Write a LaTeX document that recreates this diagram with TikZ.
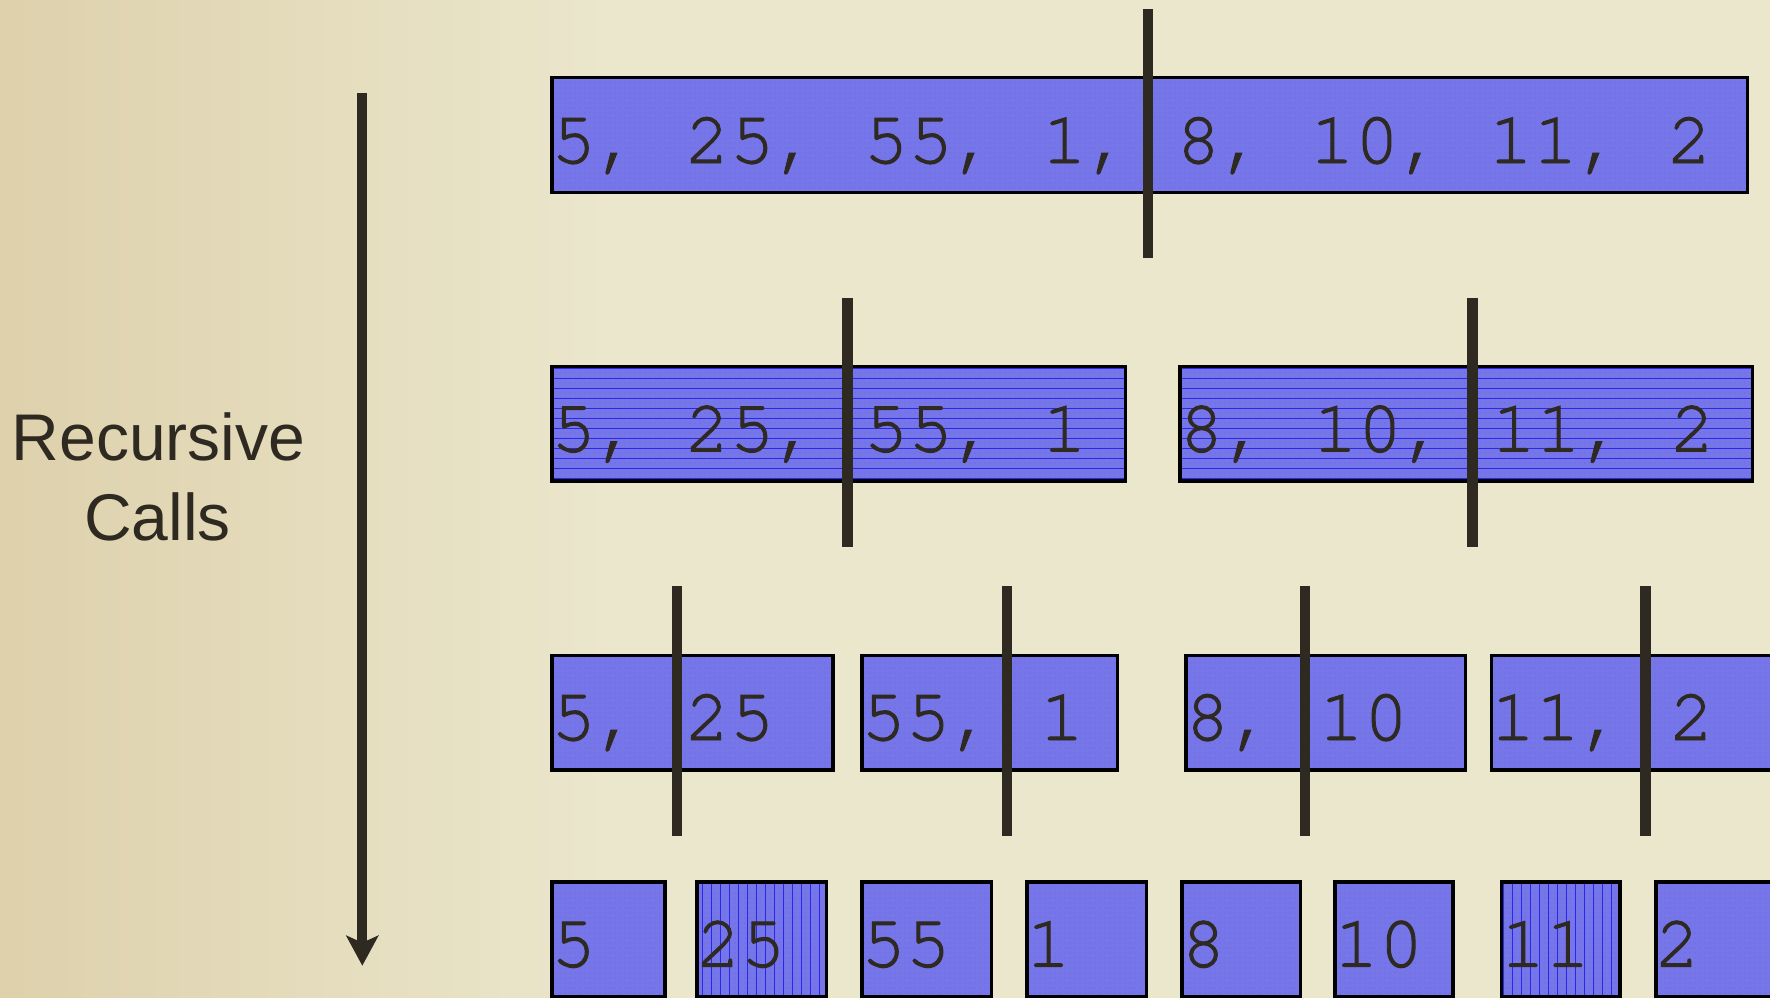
\documentclass[tikz,border=0pt]{standalone}
\usepackage{fontspec}
\setmainfont{Liberation Serif}
\setsansfont{Liberation Sans}
\setmonofont[FakeBold=1.3]{texgyrecursor-regular.otf}
\usetikzlibrary{arrows.meta,patterns.meta}
\definecolor{bgbase}{RGB}{235,231,205}
\definecolor{bgtan}{RGB}{222,209,172}
\definecolor{ink}{RGB}{46,42,34}
\definecolor{cellblue}{RGB}{118,118,232}
\definecolor{dotblue}{RGB}{60,60,245}
\definecolor{lineblue}{RGB}{40,40,235}
\tikzset{
  cell/.style={draw=black, line width=3.5pt, inner sep=0pt, anchor=north west,
    minimum height=114.5pt,
    preaction={fill=cellblue},
    pattern={Dots[distance=5pt, radius=0.4pt]}, pattern color=dotblue},
  hlines/.style={preaction={pattern={Lines[distance=10pt, angle=0, line width=0.8pt]}, pattern color=lineblue}},
  vlines/.style={preaction={pattern={Lines[distance=9pt, angle=90, line width=0.8pt]}, pattern color=lineblue}},
  num/.style={anchor=base west, inner sep=0pt, text=ink, xshift=1pt,
    font=\ttfamily\fontsize{74.4}{80}\selectfont},
  divider/.style={draw=ink, line width=10.7pt},
  lbl/.style={anchor=base, inner sep=0pt, text=ink,
    font=\sffamily\fontsize{66}{79}\selectfont}
}
\begin{document}
\begin{tikzpicture}[x=1pt,y=-1pt]
\useasboundingbox (0,0) rectangle (1770,998);
\clip (0,0) rectangle (1770,998);
% background
\fill[bgbase] (0,0) rectangle (1770,998);
\shade[left color=bgtan, right color=bgbase] (0,0) rectangle (620,998);

% level 1
\node[cell, minimum width=1195.5pt] (r1) at (550,76) {};
\node[num] (t1) at (550,163) {5, 25, 55, 1, 8, 10, 11, 2};
\draw[divider] (1148,9) -- (1148,258);

% level 2
\node[cell, hlines, minimum width=573.5pt] (r2a) at (550,364.5) {};
\node[num] (t2a) at (550,451.5) {5, 25, 55, 1};
\node[cell, hlines, minimum width=572.5pt] (r2b) at (1178,364.5) {};
\node[num] (t2b) at (1178,451.5) {8, 10, 11, 2};
\draw[divider] (847.6,298) -- (847.6,547);
\draw[divider] (1472.5,298) -- (1472.5,547);

% level 3
\node[cell, minimum width=281pt] (r3a) at (550,653.5) {};
\node[num] (t3a) at (550,740) {5, 25};
\node[cell, minimum width=255.5pt] (r3b) at (860,653.5) {};
\node[num] (t3b) at (860,740) {55, 1};
\node[cell, minimum width=279.5pt] (r3c) at (1184,653.5) {};
\node[num] (t3c) at (1184,740) {8, 10};
\node[cell, minimum width=283pt] (r3d) at (1489.6,653.5) {};
\node[num] (t3d) at (1489.6,740) {11, 2};
\draw[divider] (677,586) -- (677,836);
\draw[divider] (1007,586) -- (1007,836);
\draw[divider] (1305,586) -- (1305,836);
\draw[divider] (1645.6,586) -- (1645.6,836);

% level 4
\node[cell, minimum width=113pt] (r4a) at (550,880) {};
\node[num] (t4a) at (550,966.7) {5};
\node[cell, vlines, minimum width=129.5pt] (r4b) at (695,880) {};
\node[num] (t4b) at (695,966.7) {25};
\node[cell, minimum width=129.5pt] (r4c) at (860,880) {};
\node[num] (t4c) at (860,966.7) {55};
\node[cell, minimum width=119.5pt] (r4d) at (1025,880) {};
\node[num] (t4d) at (1025,966.7) {1};
\node[cell, minimum width=118.5pt] (r4e) at (1180,880) {};
\node[num] (t4e) at (1180,966.7) {8};
\node[cell, minimum width=118pt] (r4f) at (1333,880) {};
\node[num] (t4f) at (1333,966.7) {10};
\node[cell, vlines, minimum width=118.5pt] (r4g) at (1499.7,880) {};
\node[num] (t4g) at (1499.7,966.7) {11};
\node[cell, minimum width=118pt] (r4h) at (1654,880) {};
\node[num] (t4h) at (1654,966.7) {2};

% label and arrow
\node[lbl] (lblA) at (158.5,460.7) {Recursive};
\node[lbl] (lblB) at (157.5,540) {Calls};
\coordinate (arrS) at (362.3,93.3);
\coordinate (arrE) at (362.3,965.7);
\draw[draw=ink, line width=10pt, -{Stealth[length=30pt,width=32pt,inset=7pt]}] (arrS) -- (arrE);
\end{tikzpicture}
\end{document}
